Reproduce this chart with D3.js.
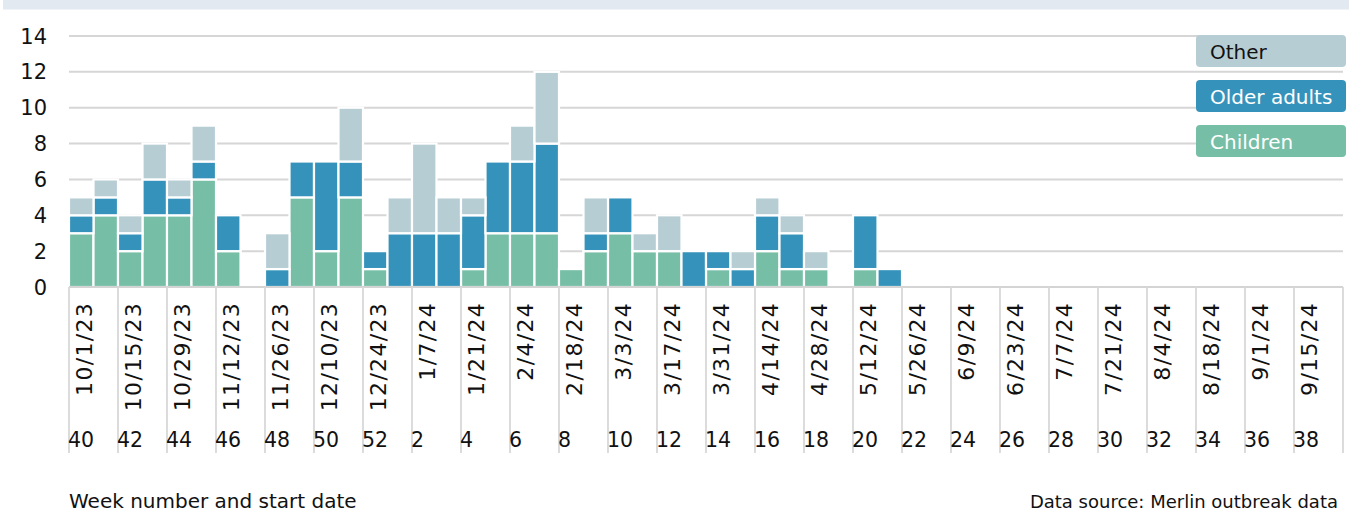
<!DOCTYPE html>
<html>
<head>
<meta charset="utf-8">
<script src="https://cdn.jsdelivr.net/npm/d3@7"></script>
<style>
  html, body { margin: 0; padding: 0; background: #fff; }
  svg { display: block; }
  text { font-family: "DejaVu Sans", sans-serif; fill: #111; }
</style>
</head>
<body>
<svg id="chart" width="1349" height="514"></svg>
<script>
// ---- Data ----
const weeks = [40,41,42,43,44,45,46,47,48,49,50,51,52,1,2,3,4,5,6,7,8,9,10,11,12,13,14,15,16,17,18,19,20,21,22,23,24,25,26,27,28,29,30,31,32,33,34,35,36,37,38,39];
const children = [3,4,2,4,4,6,2,0,0,5,2,5,1,0,0,0,1,3,3,3,1,2,3,2,2,0,1,0,2,1,1,0,1,0,0,0,0,0,0,0,0,0,0,0,0,0,0,0,0,0,0,0];
const olderAdults = [1,1,1,2,1,1,2,0,1,2,5,2,1,3,3,3,3,4,4,5,0,1,2,0,0,2,1,1,2,2,0,0,3,1,0,0,0,0,0,0,0,0,0,0,0,0,0,0,0,0,0,0];
const other = [1,1,1,2,1,2,0,0,2,0,0,3,0,2,5,2,1,0,2,4,0,2,0,1,2,0,0,1,1,1,1,0,0,0,0,0,0,0,0,0,0,0,0,0,0,0,0,0,0,0,0,0];
const tickWeeks = [40,42,44,46,48,50,52,2,4,6,8,10,12,14,16,18,20,22,24,26,28,30,32,34,36,38];
const tickDates = ["10/1/23","10/15/23","10/29/23","11/12/23","11/26/23","12/10/23","12/24/23","1/7/24","1/21/24","2/4/24","2/18/24","3/3/24","3/17/24","3/31/24","4/14/24","4/28/24","5/12/24","5/26/24","6/9/24","6/23/24","7/7/24","7/21/24","8/4/24","8/18/24","9/1/24","9/15/24"];
const yTicks = [0,2,4,6,8,10,12,14];
const seriesNames = ["Children","Older adults","Other"];
const seriesColors = ["#76bea6","#3593bb","#b7cdd4"];
const legendOrder = ["Other","Older adults","Children"];
const legendTextColors = ["#111","#fff","#fff"];

// ---- Setup ----
const svg = d3.select("#chart");
const x0 = 69, x1 = 1343, yBase = 287, yTop = 36;

const x = d3.scaleBand().domain(weeks.map(String)).range([x0, x1]).padding(0);
const y = d3.scaleLinear().domain([0, 14]).range([yBase, yTop]);
const color = d3.scaleOrdinal().domain(seriesNames).range(seriesColors);

// top band
svg.append("rect").attr("x", 3).attr("y", 0).attr("width", 1346).attr("height", 9.5).attr("fill", "#e2e9f0");

// gridlines
svg.append("g").selectAll("line").data(yTicks.filter(d => d > 0)).join("line")
  .attr("x1", x0).attr("x2", x1)
  .attr("y1", d => y(d)).attr("y2", d => y(d))
  .attr("stroke", "#d6d6d6").attr("stroke-width", 2);

// y labels
svg.append("g").selectAll("text").data(yTicks).join("text")
  .attr("x", 47).attr("y", d => y(d) + 7.6)
  .attr("text-anchor", "end")
  .style("font-size", "21px")
  .text(d => d);

// stacked bars
const rows = weeks.map((w, i) => ({week: String(w), "Children": children[i], "Older adults": olderAdults[i], "Other": other[i]}));
const stack = d3.stack().keys(seriesNames)(rows);
svg.append("g").selectAll("g").data(stack).join("g")
  .attr("fill", d => color(d.key))
  .selectAll("rect").data(d => d.filter(s => s[1] - s[0] > 0)).join("rect")
  .attr("x", d => x(d.data.week))
  .attr("width", x.bandwidth())
  .attr("y", d => y(d[1]))
  .attr("height", d => y(d[0]) - y(d[1]))
  .attr("stroke", "#fff").attr("stroke-width", 2.2);

// x baseline
svg.append("line").attr("x1", x0).attr("x2", x1).attr("y1", yBase).attr("y2", yBase)
  .attr("stroke", "#d4d4d4").attr("stroke-width", 2);

// x ticks (long vertical separators)
const tg = svg.append("g");
tg.selectAll("line").data(tickWeeks.concat([null])).join("line")
  .attr("x1", d => d === null ? x1 : x(String(d)))
  .attr("x2", d => d === null ? x1 : x(String(d)))
  .attr("y1", yBase).attr("y2", 453)
  .attr("stroke", "#d8d8d8").attr("stroke-width", 1.8);

// date labels (rotated)
svg.append("g").selectAll("text").data(tickWeeks).join("text")
  .attr("transform", d => `translate(${x(String(d)) + 23},302) rotate(-90)`)
  .attr("text-anchor", "end")
  .style("font-size", "22px")
  .style("letter-spacing", "1.3px")
  .text((d, i) => tickDates[i]);

// week numbers
svg.append("g").selectAll("text").data(tickWeeks).join("text")
  .attr("x", d => x(String(d)) - 1)
  .attr("y", 447)
  .style("font-size", "20.5px")
  .text(d => d);

// legend
const lg = svg.append("g").selectAll("g").data(legendOrder).join("g")
  .attr("transform", (d, i) => `translate(1196,${35 + i * 45})`);
lg.append("rect").attr("width", 150).attr("height", 32).attr("rx", 4)
  .attr("fill", d => color(d));
lg.append("text").attr("x", 14).attr("y", 24)
  .style("font-size", "20px")
  .style("fill", (d, i) => legendTextColors[i])
  .text(d => d);

// footer texts
svg.append("text").attr("x", 69).attr("y", 508).style("font-size", "20px").text("Week number and start date");
svg.append("text").attr("x", 1338).attr("y", 508).attr("text-anchor", "end").style("font-size", "18px")
  .text("Data source: Merlin outbreak data");
</script>
</body>
</html>
